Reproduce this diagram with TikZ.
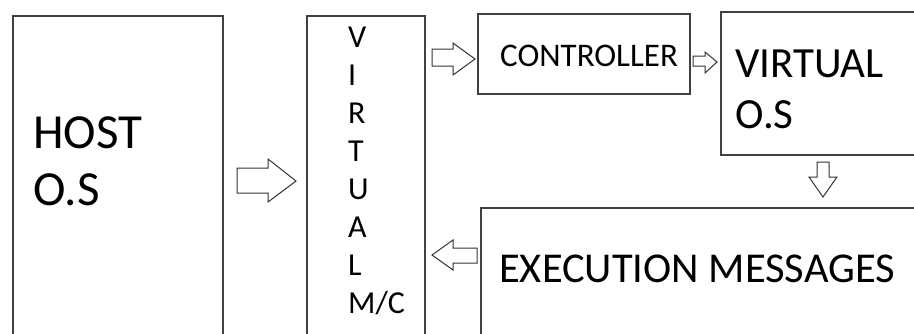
\documentclass[tikz,border=0pt]{standalone}
\usepackage{fontspec}
\setmainfont{Carlito}
\begin{document}
\begin{tikzpicture}[x=1pt,y=-1pt,
  box/.style={draw=black!75, line width=1.3pt, inner sep=0pt, outer sep=0pt, anchor=north west},
  barrow/.style={draw=black!80, line width=1pt, fill=white, line join=miter},
  lbl/.style={inner sep=0pt, anchor=base west, text=black}]
\useasboundingbox (0,0) rectangle (914,333);
\clip (0,0) rectangle (914,333);
\fill[white] (0,0) rectangle (914,333);
% boxes
\node[box, minimum width=210pt, minimum height=400pt] (host) at (13,16) {};
\node[box, minimum width=118pt, minimum height=400pt] (vm) at (307,16) {};
\node[box, minimum width=212pt, minimum height=80pt] (ctrl) at (478,14) {};
\node[box, minimum width=250pt, minimum height=143pt] (vos) at (721,12) {};
\node[box, minimum width=500pt, minimum height=200pt] (exec) at (481,208) {};
% texts (base anchor = last line)
\node[lbl, font=\fontsize{49}{57}\selectfont, align=left] (hostt) at (33,205) {HOST\\O.S};
\node[lbl, font=\fontsize{32}{38}\selectfont, align=left] (vmt) at (348,313) {V\\I\\R\\T\\U\\A\\L\\M/C};
\node[lbl, font=\fontsize{33}{36}\selectfont] (ctrlt) at (500,66) {CONTROLLER};
\node[lbl, font=\fontsize{43}{51}\selectfont, align=left] (vost) at (735,128) {VIRTUAL\\O.S};
\node[lbl, font=\fontsize{42.5}{47}\selectfont] (exect) at (499,282) {EXECUTION MESSAGES};
% block arrows
\draw[barrow] (237,168) -- (268,168) -- (268,159) -- (296,181) -- (268,202) -- (268,193) -- (237,193) -- cycle;
\draw[barrow] (432,49) -- (453,49) -- (453,43) -- (475,59) -- (453,75) -- (453,66) -- (432,66) -- cycle;
\draw[barrow] (693,56) -- (705,56) -- (705,52) -- (717,62) -- (705,73) -- (705,66) -- (693,66) -- cycle;
\draw[barrow] (817,162) -- (829,162) -- (829,177) -- (837,177) -- (823,197) -- (809,177) -- (817,177) -- cycle;
\draw[barrow] (477,248) -- (453,248) -- (453,240) -- (432,255) -- (453,270) -- (453,263) -- (477,263) -- cycle;
\end{tikzpicture}
\end{document}
